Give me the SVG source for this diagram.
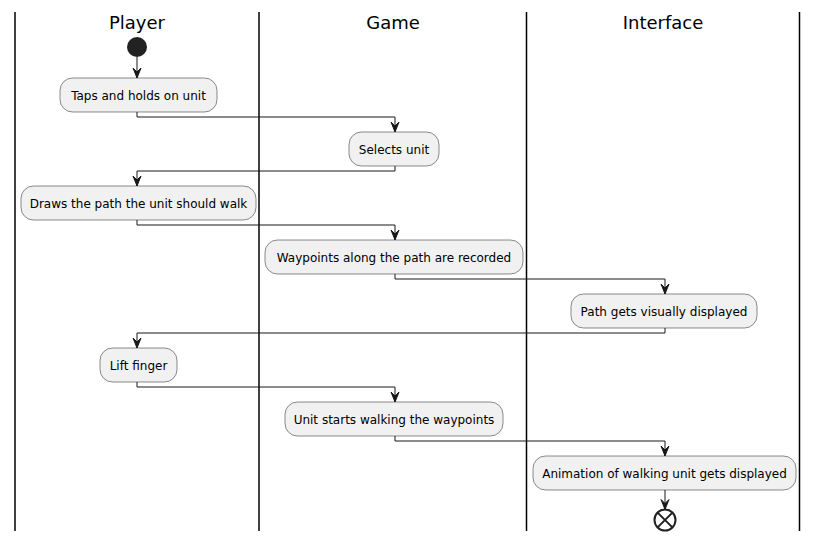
<svg xmlns="http://www.w3.org/2000/svg" width="818" height="541" viewBox="0 0 818 541">
<defs>
<marker id="ah" markerWidth="13" markerHeight="11" viewBox="0 0 13 11" refX="11.5" refY="5.5" orient="auto" markerUnits="userSpaceOnUse">
<path d="M1.5,1.5 L11.5,5.5 L1.5,9.5 L5.5,5.5 Z" fill="#181818" stroke="#181818" stroke-width="1" stroke-linejoin="miter"/>
</marker>
</defs>
<style>
.lane{stroke:#000;stroke-width:1.5;}
.hdr{font-family:"DejaVu Sans",sans-serif;font-size:18px;fill:#000;text-anchor:middle;}
.box{fill:#F1F1F1;stroke:#181818;stroke-width:0.5;}
.lbl{font-family:"DejaVu Sans",sans-serif;font-size:12px;fill:#000;text-anchor:middle;}
.conn{fill:none;stroke:#181818;stroke-width:1;}
</style>
<rect width="818" height="541" fill="#fff"/>
<g id="lanes">
<line class="lane" x1="15" y1="12" x2="15" y2="531"/>
<line class="lane" x1="259" y1="12" x2="259" y2="531"/>
<line class="lane" x1="526.5" y1="12" x2="526.5" y2="531"/>
<line class="lane" x1="799.5" y1="12" x2="799.5" y2="531"/>
<text class="hdr" x="137" y="29">Player</text>
<text class="hdr" x="393" y="29">Game</text>
<text class="hdr" x="663" y="29">Interface</text>
</g>
<g id="start"><circle cx="137" cy="47" r="10" fill="#222"/></g>
<g id="n1"><rect class="box" x="60" y="78" width="157" height="34" rx="12.5"/><text class="lbl" x="138.5" y="99.5">Taps and holds on unit</text></g>
<g id="n2"><rect class="box" x="349" y="132" width="90" height="34" rx="12.5"/><text class="lbl" x="394" y="153.5">Selects unit</text></g>
<g id="n3"><rect class="box" x="21" y="186" width="235" height="34" rx="12.5"/><text class="lbl" x="138.5" y="207.5">Draws the path the unit should walk</text></g>
<g id="n4"><rect class="box" x="265" y="240" width="258" height="34" rx="12.5"/><text class="lbl" x="394" y="261.5">Waypoints along the path are recorded</text></g>
<g id="n5"><rect class="box" x="571" y="294" width="186" height="34" rx="12.5"/><text class="lbl" x="664" y="315.5">Path gets visually displayed</text></g>
<g id="n6"><rect class="box" x="100" y="348" width="77" height="34" rx="12.5"/><text class="lbl" x="138.5" y="369.5">Lift finger</text></g>
<g id="n7"><rect class="box" x="285" y="402" width="218" height="34" rx="12.5"/><text class="lbl" x="394" y="423.5">Unit starts walking the waypoints</text></g>
<g id="n8"><rect class="box" x="533" y="456" width="263" height="34" rx="12.5"/><text class="lbl" x="664.5" y="477.5">Animation of walking unit gets displayed</text></g>
<g id="end"><circle cx="665" cy="520" r="10.5" fill="none" stroke="#222" stroke-width="2"/><path d="M657.6,512.6 L672.4,527.4 M672.4,512.6 L657.6,527.4" stroke="#222" stroke-width="2"/></g>
<g id="connectors">
<path class="conn" d="M137,57 V78" marker-end="url(#ah)"/>
<path class="conn" d="M137,112 V117 H395 V132" marker-end="url(#ah)"/>
<path class="conn" d="M395,166 V171 H137 V186" marker-end="url(#ah)"/>
<path class="conn" d="M137,220 V225 H395 V240" marker-end="url(#ah)"/>
<path class="conn" d="M395,274 V279 H665 V294" marker-end="url(#ah)"/>
<path class="conn" d="M665,328 V333 H137 V348" marker-end="url(#ah)"/>
<path class="conn" d="M137,382 V387 H395 V402" marker-end="url(#ah)"/>
<path class="conn" d="M395,436 V441 H665 V456" marker-end="url(#ah)"/>
<path class="conn" d="M665,490 V509.5" marker-end="url(#ah)"/>
</g>
</svg>
